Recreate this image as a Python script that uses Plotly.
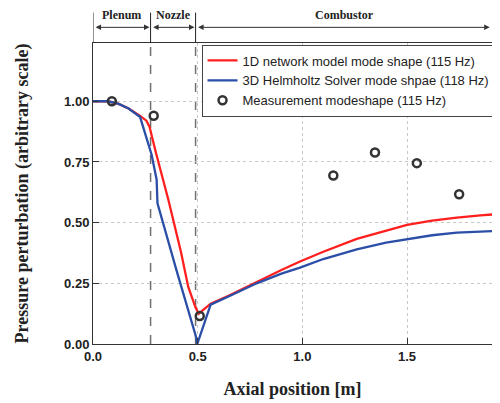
import plotly.graph_objects as go

# 1D network model (red)
x_1d = [0, 0.07, 0.12, 0.17, 0.225, 0.255, 0.27, 0.30, 0.36, 0.42, 0.455, 0.49, 0.505, 0.52, 0.562,
        0.65, 0.782, 0.9, 0.989, 1.1, 1.26, 1.4, 1.5, 1.62, 1.738, 1.85, 1.945]
y_1d = [1.0, 1.0, 0.99, 0.97, 0.94, 0.92, 0.895, 0.79, 0.594, 0.38, 0.235, 0.15, 0.125, 0.135, 0.166,
        0.2, 0.257, 0.305, 0.34, 0.38, 0.433, 0.468, 0.491, 0.508, 0.521, 0.53, 0.536]

# 3D Helmholtz solver (blue)
x_3d = [0, 0.07, 0.12, 0.17, 0.225, 0.28, 0.304, 0.308, 0.40, 0.492, 0.498, 0.562,
        0.65, 0.782, 0.9, 0.989, 1.1, 1.26, 1.4, 1.5, 1.62, 1.738, 1.85, 1.945]
y_3d = [1.0, 1.0, 0.99, 0.97, 0.935, 0.78, 0.677, 0.58, 0.30, 0.03, 0.0, 0.162,
        0.197, 0.25, 0.29, 0.315, 0.35, 0.39, 0.418, 0.433, 0.448, 0.459, 0.464, 0.466]

# Measurements
x_meas = [0.09, 0.29, 0.51, 1.148, 1.347, 1.547, 1.749, 1.936]
y_meas = [1.0, 0.94, 0.115, 0.694, 0.789, 0.745, 0.617, 0.839]

section_bounds = [0.0, 0.275, 0.49, 1.90]
section_names = ["Plenum", "Nozzle", "Combustor"]

x_ticks = [0.0, 0.5, 1.0, 1.5]
y_ticks = [0.0, 0.25, 0.5, 0.75, 1.0]

fig = go.Figure()
fig.add_trace(go.Scatter(x=x_1d, y=y_1d, mode="lines", name="1D network model mode shape (115 Hz)",
                         line=dict(color="#ff1f1f", width=2.3)))
fig.add_trace(go.Scatter(x=x_3d, y=y_3d, mode="lines", name="3D Helmholtz Solver mode shpae (118 Hz)",
                         line=dict(color="#2b4ea6", width=2.3)))
fig.add_trace(go.Scatter(x=x_meas, y=y_meas, mode="markers", name="Measurement modeshape (115 Hz)",
                         cliponaxis=False,
                         marker=dict(symbol="circle-open", size=8, color="#333333", line=dict(width=2.5))))

# dashed section boundaries in plot
for xb in section_bounds[1:3]:
    fig.add_shape(type="line", x0=xb, x1=xb, y0=0, y1=1, xref="x", yref="paper",
                  line=dict(color="#707070", width=1.5, dash="dash"), layer="below")

# header vertical lines
for xb in section_bounds[:3]:
    fig.add_shape(type="line", x0=xb, x1=xb, y0=1.0, y1=1.101, xref="x", yref="paper",
                  line=dict(color="#222222", width=1))

# header arrows and labels
for i, name in enumerate(section_names):
    a, b = section_bounds[i], section_bounds[i + 1]
    fig.add_annotation(x=b - 0.005, y=1.052, ax=a + 0.005, ay=0, xref="x", yref="paper",
                       axref="x", ayref="pixel", showarrow=True, arrowhead=2, arrowsize=1.1,
                       arrowwidth=1, arrowcolor="#333333", arrowside="end+start", text="")
fig.add_annotation(x=0.1375, y=1.093, xref="x", yref="paper", showarrow=False,
                   text=section_names[0], yanchor="middle",
                   font=dict(family="Liberation Serif", size=12, color="#222222", weight="bold"))
fig.add_annotation(x=0.3825, y=1.093, xref="x", yref="paper", showarrow=False,
                   text=section_names[1], yanchor="middle",
                   font=dict(family="Liberation Serif", size=12, color="#222222", weight="bold"))
fig.add_annotation(x=1.2, y=1.093, xref="x", yref="paper", showarrow=False,
                   text=section_names[2], yanchor="middle",
                   font=dict(family="Liberation Serif", size=12, color="#222222", weight="bold"))

fig.update_layout(
    width=484, height=395,
    margin=dict(l=85, r=0, t=35, b=59, autoexpand=False),
    paper_bgcolor="white", plot_bgcolor="white",
    showlegend=True,
    legend=dict(x=0.272, y=0.995, xanchor="left", yanchor="top",
                bordercolor="#444444", borderwidth=1, bgcolor="white",
                font=dict(family="Liberation Sans", size=13, color="#222222"),
                title=dict(text=""), valign="middle"),
)
fig.update_xaxes(range=[0, 1.906], tickvals=x_ticks, tickformat=".1f", automargin=False,
                 showline=True, linecolor="#333333", linewidth=1, mirror=True,
                 ticks="inside", ticklen=6, tickcolor="#333333",
                 showgrid=True, gridcolor="#c8c8c8", griddash="dot", gridwidth=1,
                 zeroline=False,
                 tickfont=dict(family="Liberation Sans", size=13, color="#222222", weight="bold"),
                 title=dict(text="Axial position [m]", standoff=19,
                            font=dict(family="Liberation Serif", size=18, color="#222222", weight="bold")))
fig.update_yaxes(range=[0, 1.24], tickvals=y_ticks, tickformat=".2f", automargin=False,
                 showline=True, linecolor="#333333", linewidth=1,
                 ticks="inside", ticklen=6, tickcolor="#333333",
                 showgrid=True, gridcolor="#c8c8c8", griddash="dot", gridwidth=1,
                 zeroline=False,
                 tickfont=dict(family="Liberation Sans", size=13, color="#222222", weight="bold"),
                 title=dict(text="Pressure perturbation (arbitrary scale)", standoff=30,
                            font=dict(family="Liberation Serif", size=18, color="#222222", weight="bold")))

fig.write_html("out.html")
